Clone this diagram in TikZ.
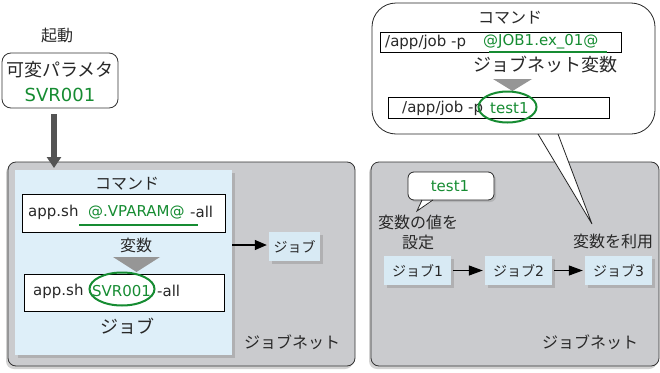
\documentclass[tikz,border=0pt]{standalone}
\usepackage{fontspec}
\setmainfont{Noto Sans CJK JP}
\newfontfamily\lat{DejaVu Sans}
\usetikzlibrary{shadows,arrows.meta,shapes.geometric}
\definecolor{vgreen}{RGB}{22,140,50}
\definecolor{netgray}{RGB}{202,203,206}
\definecolor{jobblue}{RGB}{222,239,249}
\definecolor{smallblue}{RGB}{216,234,244}
\definecolor{tri}{RGB}{150,150,150}
\definecolor{ink}{RGB}{40,40,40}
\tikzset{
  netbox/.style={draw=black!80, fill=netgray, rounded corners=8pt, line width=0.8pt,
    drop shadow={shadow xshift=-2pt, shadow yshift=-3pt, opacity=0.35}},
  jobbig/.style={fill=jobblue, draw=none,
    drop shadow={shadow xshift=3pt, shadow yshift=-3pt, opacity=0.35}},
  smalljob/.style={fill=smallblue, draw=none, minimum width=67pt, minimum height=29pt,
    font=\fontsize{14}{16}\selectfont, inner sep=0pt, text=ink,
    drop shadow={shadow xshift=3pt, shadow yshift=-3pt, opacity=0.35}},
  cmdbox/.style={draw=black, fill=white, line width=0.8pt},
  lbl/.style={font=\fontsize{16}{18}\selectfont, inner sep=0pt, text=ink},
  biglbl/.style={font=\fontsize{18}{20}\selectfont, inner sep=0pt, text=ink},
  cmdtxt/.style={font=\lat\fontsize{15}{17}\selectfont, inner sep=0pt, anchor=west, text=ink},
  gtxt/.style={cmdtxt, text=vgreen},
  garrow/.style={-{Triangle[width=10pt,length=14pt]}, line width=1.2pt, black},
  circ/.style={draw=vgreen, line width=2pt, ellipse, inner sep=0pt},
  uline/.style={draw=vgreen, line width=1.4pt},
  tritip/.style={fill=tri, draw=none},
  callout/.style={draw=black!85, fill=white, line width=0.8pt},
}
\begin{document}
\begin{tikzpicture}[x=1pt,y=-1pt]
\path[use as bounding box, fill=white] (0,0) rectangle (660,372);

% ---------- left part ----------
\node[lbl] (kido) at (57,35) {起動};
\node[draw=black!80, fill=white, rounded corners=9pt, line width=0.8pt,
      minimum width=116pt, minimum height=55pt, inner sep=0pt] (param) at (60,80.5) {};
\node[biglbl] (ptxt) at (60,70) {可変パラメタ};
\node[biglbl, text=vgreen] (pval) at (60,95) {\lat SVR001};

\node[netbox, minimum width=347pt, minimum height=204pt, inner sep=0pt] (net1) at (181.5,264) {};
\coordinate (pa) at (54,114);
\coordinate (pb) at (54,168);
\draw[line width=6pt, black!67, -{Triangle[width=14pt,length=11pt]}] (pa) -- (pb);

\node[jobbig, minimum width=217pt, minimum height=185pt, inner sep=0pt] (job1) at (123.5,262.5) {};
\node[lbl] (cmd1) at (127,184) {コマンド};
\node[cmdbox, minimum width=203pt, minimum height=38pt, inner sep=0pt] (cb1) at (123.5,213) {};
\node[cmdtxt] (c1a) at (28,212) {app.sh};
\node[gtxt] (c1b) at (88,212) {@.VPARAM@};
\node[cmdtxt] (c1c) at (190,212) {-all};
\coordinate (u1a) at (79,225); \coordinate (u1b) at (198,225);
\draw[uline] (u1a) -- (u1b);
\node[lbl] (hensu) at (136,245) {変数};
\fill[tritip] (113,257) -- (160,257) -- (136.5,272) -- cycle;
\node[cmdbox, minimum width=200pt, minimum height=37pt, inner sep=0pt] (cb2) at (124,292.5) {};
\node[cmdtxt] (c2a) at (33,291) {app.sh};
\node[gtxt] (c2b) at (92,291) {SVR001};
\node[cmdtxt] (c2c) at (157,291) {-all};
\node[circ, minimum width=65pt, minimum height=33pt] (el1) at (122,289) {};
\node[biglbl] (jobl) at (127,326) {ジョブ};
\node[lbl] (netl1) at (292,342) {ジョブネット};

\node[smalljob, minimum width=51pt] (sj) at (294.5,246.5) {ジョブ};
\coordinate (a0) at (232,245);
\draw[garrow, -{Triangle[width=10pt,length=12pt]}] (a0) -- ([xshift=-2pt]sj.west |- a0);

% ---------- right part ----------
\node[netbox, minimum width=288pt, minimum height=204pt, inner sep=0pt] (net2) at (515,264) {};

% big callout
\draw[callout, rounded corners=24pt] (372,3) rectangle (655,134);
\coordinate (t1) at (538,134); \coordinate (t2) at (558,134); \coordinate (tt) at (592,224);
\fill[white] ([yshift=-1pt]t1) -- (tt) -- ([yshift=-1pt]t2) -- cycle;
\draw[line width=0.8pt, black!85] (t1) -- (tt) -- (t2);

\node[lbl] (cmd2) at (510,18) {コマンド};
\node[cmdbox, minimum width=241pt, minimum height=20pt, inner sep=0pt] (cb3) at (500.5,42) {};
\node[cmdtxt] (c3a) at (385,42) {/app/job -p};
\node[gtxt] (c3b) at (483,42) {@JOB1.ex\_01@};
\coordinate (u2a) at (489,52); \coordinate (u2b) at (607,52);
\draw[uline] (u2a) -- (u2b);
\node[biglbl] (jnv) at (545,65) {ジョブネット変数};
\fill[tritip] (493,79) -- (532,79) -- (512.5,91) -- cycle;
\node[cmdbox, minimum width=221pt, minimum height=21pt, inner sep=0pt] (cb4) at (498.5,107.5) {};
\node[cmdtxt] (c4a) at (402,108) {/app/job -p};
\node[gtxt] (c4b) at (490,108) {test1};
\node[circ, minimum width=58pt, minimum height=31pt] (el2) at (507.5,107) {};

% small callout
\draw[callout, rounded corners=6pt,
      drop shadow={shadow xshift=2pt, shadow yshift=-2pt, opacity=0.3}] (408,172) rectangle (494,200);
\coordinate (s1) at (422,200); \coordinate (s2) at (433,200); \coordinate (st) at (417,211);
\fill[white] ([yshift=-1pt]s1) -- (st) -- ([yshift=-1pt]s2) -- cycle;
\draw[line width=0.8pt, black!85] (s1) -- (st) -- (s2);
\node[lbl, text=vgreen] (tv) at (450,186) {\lat\fontsize{15}{17}\selectfont test1};

\node[lbl] (set1) at (418,222) {変数の値を};
\node[lbl] (set2) at (418,242) {設定};
\node[lbl] (use) at (613,241) {変数を利用};

\node[smalljob] (j1) at (417.5,270.5) {ジョブ{\lat 1}};
\node[smalljob] (j2) at (518.5,270.5) {ジョブ{\lat 2}};
\node[smalljob] (j3) at (618.5,270.5) {ジョブ{\lat 3}};
\draw[garrow] ([xshift=2pt]j1.east) -- ([xshift=-2pt]j2.west);
\draw[garrow] ([xshift=2pt]j2.east) -- ([xshift=-2pt]j3.west);

\node[lbl] (netl2) at (590,342) {ジョブネット};
\end{tikzpicture}
\end{document}
